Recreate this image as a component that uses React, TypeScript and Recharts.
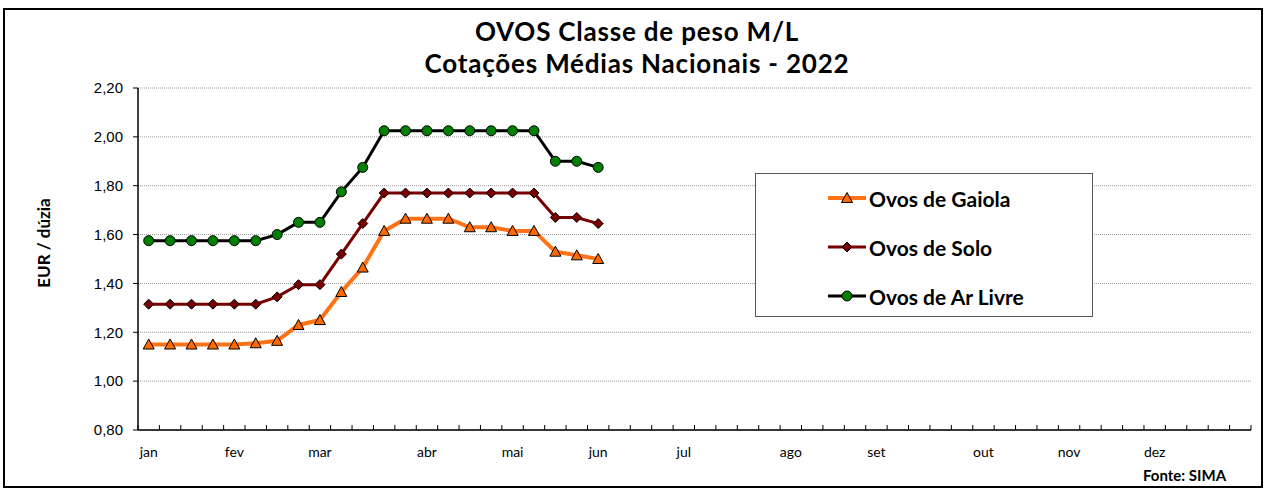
import { CartesianGrid, Line, LineChart, XAxis, YAxis } from 'recharts';

// weekly quotes, 2022 (EUR / dozen), first 22 weeks published
const gaiola = [1.15, 1.15, 1.15, 1.15, 1.15, 1.155, 1.165, 1.23, 1.25, 1.365, 1.465, 1.615, 1.665, 1.665, 1.665, 1.63, 1.63, 1.615, 1.615, 1.53, 1.515, 1.5];
const solo = [1.315, 1.315, 1.315, 1.315, 1.315, 1.315, 1.345, 1.395, 1.395, 1.52, 1.645, 1.77, 1.77, 1.77, 1.77, 1.77, 1.77, 1.77, 1.77, 1.67, 1.67, 1.645];
const arLivre = [1.575, 1.575, 1.575, 1.575, 1.575, 1.575, 1.6, 1.65, 1.65, 1.775, 1.875, 2.025, 2.025, 2.025, 2.025, 2.025, 2.025, 2.025, 2.025, 1.9, 1.9, 1.875];

const weekCount = 52;
const monthWeek = [0, 4, 8, 13, 17, 21, 25, 30, 34, 39, 43, 47];
const monthNames = ['jan', 'fev', 'mar', 'abr', 'mai', 'jun', 'jul', 'ago', 'set', 'out', 'nov', 'dez'];
const yTicks = [0.8, 1.0, 1.2, 1.4, 1.6, 1.8, 2.0, 2.2];

const data = Array.from({ length: weekCount }, (_, i) => ({
  week: i + 1,
  gaiola: gaiola[i] ?? null,
  solo: solo[i] ?? null,
  arLivre: arLivre[i] ?? null,
}));

const W = 1264;
const H = 488;
const M = { top: 88, right: 13, left: 78, bottom: 28 };
const Y_AXIS_W = 60;
const PLOT_W = W - M.left - M.right - Y_AXIS_W;
const HALF_BAND = PLOT_W / weekCount / 2;

const ORANGE = '#FF7314';
const MAROON = '#7A0000';
const GREEN = '#008000';
const TXT = "Lato, 'Open Sans', sans-serif";
const ARIAL = "'Liberation Sans', Arial, sans-serif";

const Triangle = (p: any) => {
  const { cx, cy, index } = p;
  if (cx == null || cy == null || p.value == null) return <g key={`t${index}`} />;
  return (
    <polygon
      key={`t${index}`}
      points={`${cx},${cy - 5.5} ${cx - 5.5},${cy + 4.5} ${cx + 5.5},${cy + 4.5}`}
      fill="#FF6A00"
      stroke="#000"
      strokeWidth={1}
    />
  );
};

const Diamond = (p: any) => {
  const { cx, cy, index } = p;
  if (cx == null || cy == null || p.value == null) return <g key={`d${index}`} />;
  return (
    <polygon
      key={`d${index}`}
      points={`${cx},${cy - 5} ${cx + 5},${cy} ${cx},${cy + 5} ${cx - 5},${cy}`}
      fill={MAROON}
      stroke="#000"
      strokeWidth={1}
    />
  );
};

const Circle = (p: any) => {
  const { cx, cy, index } = p;
  if (cx == null || cy == null || p.value == null) return <g key={`c${index}`} />;
  return <circle key={`c${index}`} cx={cx} cy={cy} r={5} fill={GREEN} stroke="#000" strokeWidth={1} />;
};

// excel-style ticks: marks sit between weeks, month names under their first week
const WeekTick = (props: any) => {
  const { x, y, payload } = props;
  const idx = payload?.index ?? props.index;
  const k = monthWeek.indexOf(idx);
  return (
    <g>
      <line x1={x - HALF_BAND} x2={x - HALF_BAND} y1={y} y2={y - 5} stroke="#000" strokeWidth={1} />
      {idx === weekCount - 1 && (
        <line x1={x + HALF_BAND} x2={x + HALF_BAND} y1={y} y2={y - 5} stroke="#000" strokeWidth={1} />
      )}
      {k >= 0 && (
        <text x={x} y={y + 27} textAnchor="middle" fontFamily={TXT} fontSize={14} fill="#000">
          {monthNames[k]}
        </text>
      )}
    </g>
  );
};

const legendItems = [
  { name: 'Ovos de Gaiola', color: ORANGE, width: 4, Marker: Triangle },
  { name: 'Ovos de Solo', color: MAROON, width: 3, Marker: Diamond },
  { name: 'Ovos de Ar Livre', color: '#000', width: 3, Marker: Circle },
];

export default function App() {
  return (
    <div style={{ position: 'absolute', left: 0, top: 0, width: W, height: H, background: '#fff', overflow: 'hidden' }}>
      <div
        style={{
          position: 'absolute',
          left: 3,
          top: 8,
          width: 1256,
          height: 476,
          border: '2px solid #000',
        }}
      />
      <LineChart width={W} height={H} data={data} margin={M} style={{ position: 'absolute', left: 0, top: 0 }}>
        <CartesianGrid horizontal vertical={false} stroke="#9a9a9a" strokeDasharray="1 1" />
        <XAxis
          dataKey="week"
          interval={0}
          height={30}
          padding={{ left: HALF_BAND, right: HALF_BAND }}
          tickSize={0}
          tickMargin={0}
          tickLine={false}
          axisLine={{ stroke: '#000', strokeWidth: 1.5 }}
          tick={<WeekTick />}
        />
        <YAxis
          domain={[0.8, 2.2]}
          ticks={yTicks}
          width={Y_AXIS_W}
          tickSize={5}
          tickMargin={10}
          tickLine={{ stroke: '#000' }}
          axisLine={{ stroke: '#000', strokeWidth: 1.5 }}
          tickFormatter={(v: number) => v.toFixed(2).replace('.', ',')}
          tick={{ fill: '#000', fontSize: 15, fontFamily: ARIAL }}
          allowDataOverflow
        />
        <Line type="linear" dataKey="gaiola" stroke={ORANGE} strokeWidth={4} dot={Triangle} activeDot={false} isAnimationActive={false} />
        <Line type="linear" dataKey="solo" stroke={MAROON} strokeWidth={3} dot={Diamond} activeDot={false} isAnimationActive={false} />
        <Line type="linear" dataKey="arLivre" stroke="#000" strokeWidth={3} dot={Circle} activeDot={false} isAnimationActive={false} />
      </LineChart>

      <div
        style={{
          position: 'absolute',
          left: 5,
          width: W,
          top: 16,
          textAlign: 'center',
          fontFamily: TXT,
          fontWeight: 700,
          fontSize: 26,
          letterSpacing: 0.8,
          lineHeight: '31.5px',
          color: '#000',
        }}
      >
        <div>OVOS Classe de peso M/L</div>
        <div>Cotações Médias Nacionais - 2022</div>
      </div>

      <div
        style={{
          position: 'absolute',
          left: 43,
          top: 243,
          transform: 'translate(-50%, -50%) rotate(-90deg)',
          fontFamily: TXT,
          fontWeight: 700,
          fontSize: 17,
          whiteSpace: 'nowrap',
          color: '#000',
        }}
      >
        EUR / dúzia
      </div>

      <div
        style={{
          position: 'absolute',
          left: 755,
          top: 173,
          width: 338,
          height: 144,
          border: '1px solid #555',
          background: '#fff',
          boxSizing: 'border-box',
        }}
      >
        {legendItems.map((it, i) => (
          <div key={it.name} style={{ position: 'absolute', left: 70, top: 10 + i * 49, height: 28, display: 'flex', alignItems: 'center' }}>
            <svg width={42} height={20}>
              <line x1={2} x2={40} y1={10} y2={10} stroke={it.color} strokeWidth={it.width} />
              <it.Marker cx={21} cy={10} value={1} index={i} />
            </svg>
            <span style={{ fontFamily: TXT, fontWeight: 700, fontSize: 21, color: '#000', marginLeft: 1 }}>{it.name}</span>
          </div>
        ))}
      </div>

      <div style={{ position: 'absolute', left: 1143, top: 466, fontFamily: TXT, fontWeight: 700, fontSize: 15, color: '#000' }}>
        Fonte: SIMA
      </div>
    </div>
  );
}
